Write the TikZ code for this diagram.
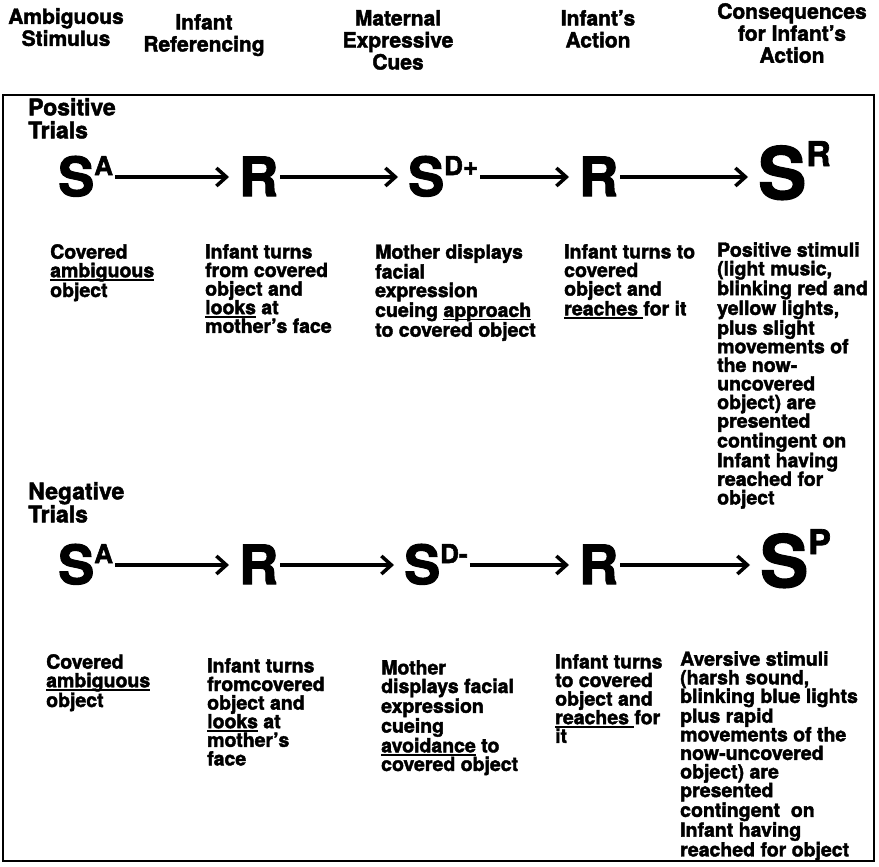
\documentclass[tikz,border=0pt]{standalone}
\usepackage{fontspec}
\setmainfont{TeX Gyre Heros}[BoldFeatures={FakeBold=2}]
\usetikzlibrary{positioning,arrows.meta}

% underline with a heavier rule
\newcommand{\undl}[1]{\setbox0=\hbox{#1}\rlap{\rule[-3.5pt]{\wd0}{1.8pt}}\box0\relax}
% raised index on the big letters
\newcommand{\hsup}[1]{\raisebox{21pt}{\fontsize{26}{26}\selectfont #1}}
\newcommand{\bigsup}[1]{\raisebox{33pt}{\fontsize{34}{34}\selectfont #1}}

\begin{document}
\begin{tikzpicture}[
  x=1pt, y=-1pt,
  head/.style={align=center, anchor=north, inner sep=0pt,
    font=\bfseries\fontsize{21}{22}\selectfont},
  trial/.style={align=left, anchor=north west, inner sep=0pt,
    font=\bfseries\fontsize{23}{23}\selectfont},
  txt/.style={align=left, anchor=north west, inner sep=0pt,
    font=\bfseries\fontsize{19.5}{18.6}\selectfont},
  sym/.style={anchor=base west, inner xsep=2pt, inner ysep=0pt,
    text height=38pt, text depth=0pt,
    font=\bfseries\fontsize{54}{54}\selectfont},
  bigsym/.style={sym, text height=50pt,
    font=\bfseries\fontsize{72}{72}\selectfont},
  arr/.style={-{Straight Barb[length=10pt,width=18pt,line width=3.5pt]},
    line width=3.5pt, shorten >=8pt}
]
\useasboundingbox (0,0) rectangle (879,867);

% column heads
\node[head] (hstim) at (66,8) {Ambiguous\\Stimulus};
\node[head] (href) at (204,14) {Infant\\Referencing};
\node[head] (hcues) at (398,10) {Maternal\\Expressive\\Cues};
\node[head] (hact) at (598,10) {Infant's\\Action};
\node[head] (hcons) at (792,3) {Consequences\\for Infant's\\Action};

\draw[line width=1.8pt] (3,95) rectangle (874,861);

% positive trials
\node[trial] (pos) at (28,98) {Positive\\Trials};

\node[sym] (psa) at (56,196) {S\hsup{A}};
\node[sym] (pr1) at (237,196) {R};
\node[sym] (psd) at (406,196) {S\hsup{D+}};
\node[sym] (pr2) at (577,196) {R};
\node[bigsym] (psr) at (756,199) {S\bigsup{R}};
\draw[arr] (psa.east) -- (pr1.west);
\draw[arr] (pr1.east) -- (psd.west);
\draw[arr] (psd.east) -- (pr2.west);
\draw[arr] (pr2.east) -- (psr.west |- pr2.east);

\node[txt] (pt1) at (50,244) {Covered\\\undl{ambiguous}\\object};
\node[txt] (pt2) at (205,244) {Infant turns\\from covered\\object and\\\undl{looks} at\\mother's face};
\node[txt] (pt3) at (375,244) {Mother displays\\facial\\expression\\cueing \undl{approach}\\to covered object};
\node[txt] (pt4) at (564,244) {Infant turns to\\covered\\object and\\\undl{reaches\ }for it};
\node[txt] (pt5) at (717,242) {Positive stimuli\\(light music,\\blinking red and\\yellow lights,\\plus slight\\movements of\\the now-\\uncovered\\object) are\\presented\\contingent on\\Infant having\\reached for\\object};

% negative trials
\node[trial] (neg) at (28,482) {Negative\\Trials};

\node[sym] (nsa) at (56,584) {S\hsup{A}};
\node[sym] (nr1) at (237,584) {R};
\node[sym] (nsd) at (402,584) {S\hsup{D-}};
\node[sym] (nr2) at (577,584) {R};
\node[bigsym] (nsp) at (758,587) {S\bigsup{P}};
\draw[arr] (nsa.east) -- (nr1.west);
\draw[arr] (nr1.east) -- (nsd.west);
\draw[arr] (nsd.east) -- (nr2.west);
\draw[arr] (nr2.east) -- (nsp.west |- nr2.east);

\node[txt] (nt1) at (46,654) {Covered\\\undl{ambiguous}\\object};
\node[txt] (nt2) at (207,658) {Infant turns\\fromcovered\\object and\\\undl{looks} at\\mother's\\face};
\node[txt] (nt3) at (381,660) {Mother\\displays facial\\expression\\cueing\\\undl{avoidance} to\\covered object};
\node[txt] (nt4) at (555,654) {Infant turns\\to covered\\object and\\\undl{reaches\ }for\\it};
\node[txt] (nt5) at (680,651) {Aversive stimuli\\(harsh sound,\\blinking blue lights\\plus rapid\\movements of the\\now-uncovered\\object) are\\presented\\contingent\ \ on\\Infant having\\reached for object};

\end{tikzpicture}
\end{document}
